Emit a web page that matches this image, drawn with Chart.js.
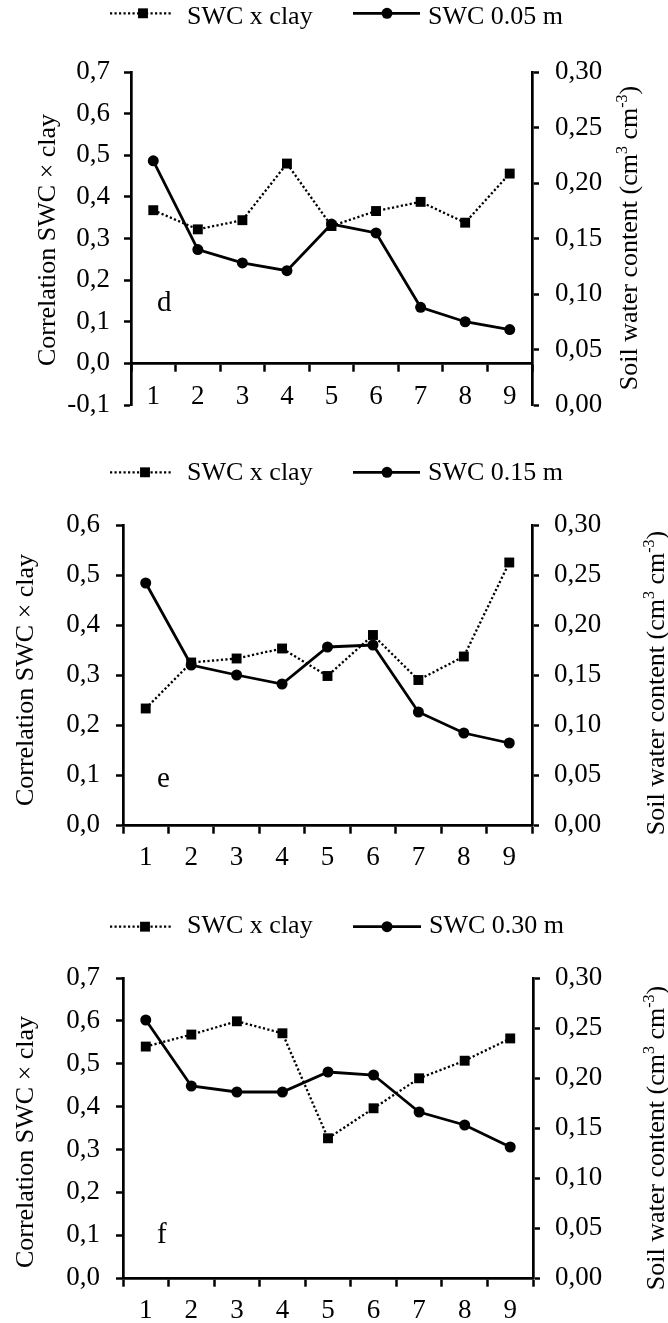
<!DOCTYPE html>
<html lang="en">
<head>
<meta charset="UTF-8">
<title>SWC x clay correlation</title>
<script src="https://cdn.jsdelivr.net/npm/chart.js"></script>
<style>
  body { margin: 0; background: #fff; }
  canvas { position: absolute; left: 0; }
</style>
</head>
<body>
<canvas id="chartD" width="668" height="440" style="top:0px"></canvas>
<canvas id="chartE" width="668" height="440" style="top:440px"></canvas>
<canvas id="chartF" width="668" height="443" style="top:880px"></canvas>

<script>
// categories on the x axis
const categories = ['1', '2', '3', '4', '5', '6', '7', '8', '9'];

// panel d (0.05 m)
const corrD = [0.368, 0.322, 0.344, 0.480, 0.330, 0.366, 0.388, 0.338, 0.456];
const swcD = [0.220, 0.140, 0.128, 0.121, 0.163, 0.155, 0.088, 0.075, 0.068];

// panel e (0.15 m)
const corrE = [0.233, 0.325, 0.333, 0.353, 0.298, 0.380, 0.290, 0.337, 0.525];
const swcE = [0.242, 0.160, 0.150, 0.141, 0.178, 0.180, 0.113, 0.092, 0.082];

// panel f (0.30 m)
const corrF = [0.540, 0.568, 0.599, 0.571, 0.326, 0.396, 0.466, 0.507, 0.559];
const swcF = [0.258, 0.192, 0.186, 0.186, 0.206, 0.203, 0.166, 0.153, 0.131];

const FAMILY = "'Liberation Serif', 'Times New Roman', serif";
const FONT = '26px ' + FAMILY;
const SUP_FONT = '16px ' + FAMILY;
const LETTER_FONT = '29px ' + FAMILY;

Chart.defaults.font.family = FAMILY;
Chart.defaults.font.size = 27;
Chart.defaults.color = '#000';

function fmt(v, d) {
    if (Math.abs(v) < 1e-9) v = 0;
    return v.toFixed(d).replace('.', ',');
}

// rotated text (reads bottom to top), baseline at x
function drawVText(ctx, parts, x, yc) {
    ctx.save();
    ctx.translate(x, yc);
    ctx.rotate(-Math.PI / 2);
    ctx.textBaseline = 'alphabetic';
    ctx.textAlign = 'left';
    let total = 0;
    parts.forEach(p => {
        ctx.font = p.sup ? SUP_FONT : FONT;
        p.w = ctx.measureText(p.t).width;
        total += p.w;
    });
    let cx = -total / 2;
    parts.forEach(p => {
        ctx.font = p.sup ? SUP_FONT : FONT;
        ctx.fillText(p.t, cx, p.sup ? -10 : 0);
        cx += p.w;
    });
    ctx.restore();
}

function drawSample(ctx, ds, x1, x2, mx, y) {
    ctx.save();
    ctx.strokeStyle = ds.borderColor;
    ctx.lineWidth = ds.borderWidth;
    ctx.setLineDash(ds.borderDash || []);
    ctx.beginPath();
    ctx.moveTo(x1, y);
    ctx.lineTo(x2, y);
    ctx.stroke();
    ctx.setLineDash([]);
    ctx.fillStyle = ds.pointBackgroundColor;
    Chart.helpers.drawPoint(ctx, {
        pointStyle: ds.pointStyle, radius: ds.pointRadius, borderWidth: 0, rotation: 0
    }, mx, y);
    ctx.restore();
}

// legend, axis titles and panel letter
const decor = {
    id: 'decor',
    afterDraw(chart, args, o) {
        const ctx = chart.ctx;
        const dss = chart.data.datasets;
        ctx.save();
        ctx.fillStyle = '#000';

        drawSample(ctx, dss[0], o.s1[0], o.s1[1], o.s1[2], o.sampleY);
        drawSample(ctx, dss[1], o.s2[0], o.s2[1], o.s2[2], o.sampleY);
        ctx.font = FONT;
        ctx.textBaseline = 'middle';
        ctx.textAlign = 'left';
        ctx.fillText(dss[0].label, o.t1, o.textY);
        ctx.fillText(dss[1].label, o.t2, o.textY);

        drawVText(ctx, [{t: 'Correlation SWC \u00d7 clay'}], o.leftTitle[0], o.leftTitle[1]);
        drawVText(ctx, [
            {t: 'Soil water content (cm'}, {t: '3', sup: true},
            {t: ' cm'}, {t: '-3', sup: true}, {t: ')'}
        ], o.rightTitle[0], o.rightTitle[1]);

        ctx.font = LETTER_FONT;
        ctx.textBaseline = 'alphabetic';
        ctx.fillText(o.letter[0], o.letter[1], o.letter[2]);
        ctx.restore();
    }
};

function makePanel(id, corr, swc, swcLabel, cfg) {
    const axisGrid = { drawOnChartArea: false, tickLength: 7, tickWidth: 2.5, tickColor: '#000' };
    const axisBorder = { color: '#000', width: 2.7 };
    return new Chart(document.getElementById(id), {
        type: 'line',
        data: {
            labels: categories,
            datasets: [
                {
                    label: 'SWC x clay',
                    data: corr,
                    yAxisID: 'y',
                    borderColor: '#000',
                    borderWidth: 2.3,
                    borderDash: [2.2, 2.3],
                    pointStyle: 'rect',
                    pointRadius: 7,
                    pointBackgroundColor: '#000',
                    pointBorderWidth: 0,
                    tension: 0
                },
                {
                    label: swcLabel,
                    data: swc,
                    yAxisID: 'y1',
                    borderColor: '#000',
                    borderWidth: 2.8,
                    pointStyle: 'circle',
                    pointRadius: 5.5,
                    pointBackgroundColor: '#000',
                    pointBorderWidth: 0,
                    tension: 0
                }
            ]
        },
        options: {
            responsive: false,
            animation: false,
            devicePixelRatio: 1,
            layout: { padding: 0 },
            plugins: {
                legend: { display: false },
                tooltip: { enabled: false },
                decor: cfg
            },
            scales: {
                x: {
                    position: { y: 0 },
                    offset: true,
                    grid: Object.assign({ offset: true }, axisGrid),
                    border: axisBorder,
                    ticks: { padding: 10, maxRotation: 0, autoSkip: false }
                },
                y: {
                    position: 'left',
                    min: cfg.yMin,
                    max: cfg.yMax,
                    grid: axisGrid,
                    border: axisBorder,
                    ticks: { stepSize: 0.1, padding: cfg.padL, callback: v => fmt(v, 1) },
                    afterFit: s => {
                        s.width = cfg.area[0];
                        s.paddingTop = cfg.area[2];
                        s.paddingBottom = cfg.h - cfg.area[3];
                    }
                },
                y1: {
                    position: 'right',
                    min: 0,
                    max: 0.3,
                    grid: axisGrid,
                    border: axisBorder,
                    ticks: { stepSize: 0.05, padding: cfg.padR, callback: v => fmt(v, 2) },
                    afterFit: s => { s.width = 668 - cfg.area[1]; }
                }
            }
        },
        plugins: [decor]
    });
}

makePanel('chartD', corrD, swcD, 'SWC 0.05 m', {
    h: 440, area: [131, 532, 72, 405], yMin: -0.1, yMax: 0.7, padL: 14, padR: 16,
    sampleY: 13.3, textY: 17.5, s1: [110, 172, 143], t1: 187, s2: [353, 420, 387], t2: 428,
    leftTitle: [55, 240], rightTitle: [637, 238], letter: ['d', 157, 311]
});

makePanel('chartE', corrE, swcE, 'SWC 0.15 m', {
    h: 440, area: [123, 532, 85, 385], yMin: 0, yMax: 0.6, padL: 16, padR: 15,
    sampleY: 32.3, textY: 33, s1: [110, 173, 145], t1: 187, s2: [353, 420, 387], t2: 428,
    leftTitle: [33, 240], rightTitle: [664, 243], letter: ['e', 157, 346.7]
});

makePanel('chartF', corrF, swcF, 'SWC 0.30 m', {
    h: 443, area: [123, 533, 98, 398], yMin: 0, yMax: 0.7, padL: 16, padR: 15,
    sampleY: 46.7, textY: 46, s1: [110, 173, 145], t1: 187, s2: [353, 421, 387], t2: 429,
    leftTitle: [33, 262], rightTitle: [664, 258], letter: ['f', 157, 363.3]
});
</script>
</body>
</html>
